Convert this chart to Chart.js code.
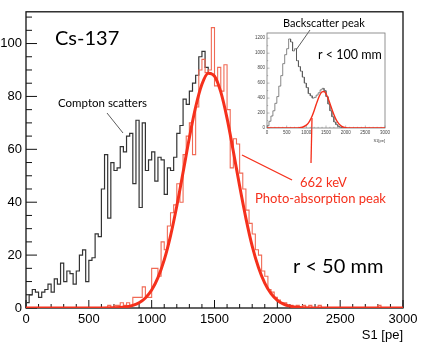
<!DOCTYPE html>
<html>
<head>
<meta charset="utf-8">
<script src="https://cdn.jsdelivr.net/npm/chart.js@4.4.1/dist/chart.umd.min.js"></script>
<style>
body { margin: 0; background: #fff; }
#wrap { position: relative; width: 425px; height: 347px; }
#main { position: absolute; left: 0; top: 0; }
#inset { position: absolute; left: 245px; top: 28px; }
</style>
</head>
<body>
<div id="wrap">
	<canvas id="main" width="425" height="347"></canvas>
	<canvas id="inset" width="150" height="115"></canvas>
</div>
<script>
// main histogram, 25 pe bins
const BIN_WIDTH = 25;
const BLACK_START = 0;
const blackCounts = [
	2, 5, 7, 6, 4, 6, 7, 9, 6, 11, 9, 17, 10, 14, 13, 9, 14, 20, 22, 10,
	18, 19, 28, 27, 45, 58, 34, 55, 52, 53, 61, 59, 65, 66, 47, 71, 38, 70, 52, 56,
	59, 48, 57, 56, 43, 53, 52, 57, 66, 69, 79, 77, 82, 85, 88, 95, 97, 91, 89,
];
const RED_START = 650;
const redCounts = [
	1, 0, 1, 1, 2, 1, 2, 1, 4, 4, 4, 8, 4, 4, 15, 15, 12, 25, 22, 31,
	36, 39, 47, 40, 58, 65, 70, 58, 76, 90, 94, 89, 90, 106, 84, 91, 82, 92, 75, 53,
	64, 62, 51, 45, 37, 32, 28, 22, 20, 14, 12, 7, 6, 4, 3, 2, 2, 1, 1, 0,
	1, 0, 1, 0, 1, 0, 0, 1, 0, 0, 0, 0, 0, 0, 0, 0, 0, 0, 0, 0,
	0, 0, 0, 0, 0, 0, 1, 0, 0, 0, 0, 0, 0, 0,
];
// gaussian fit
const fitX = [0, 500, 700, 800, 850, 900, 950, 1000, 1050, 1100, 1150, 1200, 1250, 1300, 1350, 1400, 1450, 1500,
	1550, 1600, 1650, 1700, 1750, 1800, 1850, 1900, 1950, 2000, 2050, 2100, 2150, 2200, 2400, 3000];
const fitY = [0, 0, 0.1, 0.5, 1, 2, 3.8, 6.8, 11.5, 18.2, 27.3, 38.6, 51.3, 64.4, 76, 84.6, 88.8, 87.7,
	81.7, 71.7, 59.2, 46.1, 33.9, 23.4, 15.3, 9.4, 5.4, 2.9, 1.5, 0.7, 0.3, 0.1, 0, 0];

// inset, r < 100 mm, 50 pe bins
const INSET_BIN = 50;
const insetCounts = [
	30, 90, 160, 230, 330, 420, 560, 700, 860, 980, 1060, 1190, 1150, 1030, 1060, 900, 820, 760, 680, 600,
	540, 460, 430, 400, 410, 440, 470, 510, 530, 500, 420, 320, 230, 150, 80, 45, 20, 10, 5, 0,
];
const insetFitX = [0, 700, 800, 900, 1000, 1050, 1100, 1150, 1200, 1250, 1300, 1350, 1400, 1450, 1500,
	1550, 1600, 1650, 1700, 1750, 1800, 1850, 1900, 1950, 2000, 2050, 2100, 2200, 3000];
const insetFitY = [0, 0, 2, 10, 38, 66, 108, 165, 235, 313, 388, 448, 484, 487, 458,
	401, 328, 251, 179, 119, 74, 43, 23, 12, 5, 2, 1, 0, 0];

const RED = '#f5301c';
const RED_HIST = '#f06a55';

Chart.defaults.font.family = '"Liberation Sans", Arial, sans-serif';
Chart.defaults.color = '#000';
Chart.defaults.animation = false;

function histPoints(start, width, counts, dropEnd) {
	const pts = [{ x: start, y: 0 }];
	counts.forEach((v, i) => {
		pts.push({ x: start + i * width, y: v });
		pts.push({ x: start + (i + 1) * width, y: v });
	});
	if (dropEnd) pts.push({ x: start + counts.length * width, y: 0 });
	return pts;
}

function linePoints(xs, ys) {
	return xs.map((x, i) => ({ x: x, y: ys[i] }));
}

function strokeLine(ctx, x1, y1, x2, y2) {
	ctx.beginPath();
	ctx.moveTo(x1, y1);
	ctx.lineTo(x2, y2);
	ctx.stroke();
}

// ROOT style frame with ticks pointing inwards
const framePlugin = {
	id: 'frame',
	beforeDatasetsDraw(chart, args, o) {
		const { ctx, chartArea: a, scales: { x, y } } = chart;
		ctx.save();
		ctx.strokeStyle = o.color;
		ctx.lineWidth = o.width;
		ctx.strokeRect(a.left, a.top, a.right - a.left, a.bottom - a.top);
		ctx.lineWidth = o.tickWidth;
		for (let v = x.min; v <= x.max; v += o.xMinor) {
			const px = x.getPixelForValue(v);
			const len = v % o.xMajor === 0 ? o.xMajorLen : o.xMinorLen;
			strokeLine(ctx, px, a.bottom, px, a.bottom - len);
		}
		for (let v = y.min; v <= y.max; v += o.yMinor) {
			const py = y.getPixelForValue(v);
			const len = v % o.yMajor === 0 ? o.yMajorLen : o.yMinorLen;
			strokeLine(ctx, a.left, py, a.left + len, py);
		}
		ctx.restore();
	},
};

const notesPlugin = {
	id: 'notes',
	afterDraw(chart) {
		const ctx = chart.ctx;
		ctx.save();
		ctx.textAlign = 'left';
		ctx.textBaseline = 'alphabetic';
		ctx.fillStyle = '#000';
		ctx.font = '20px Lato';
		ctx.fillText('Cs-137', 55, 45);
		ctx.font = '11.5px Lato';
		ctx.fillText('Compton scatters', 58, 107);
		ctx.font = '20px Lato';
		ctx.fillText('r < 50 mm', 293, 273);
		ctx.font = '11px Lato';
		ctx.fillText('Backscatter peak', 283, 27);
		ctx.font = '12.5px Lato';
		ctx.fillText('r < 100 mm', 318, 59);
		ctx.strokeStyle = '#333';
		ctx.lineWidth = 0.8;
		strokeLine(ctx, 107, 113, 123, 133);
		strokeLine(ctx, 310, 30, 296, 50);

		ctx.fillStyle = RED;
		ctx.font = '13px Lato';
		ctx.fillText('662 keV', 300, 187);
		ctx.fillText('Photo-absorption peak', 255, 203);
		ctx.strokeStyle = RED;
		ctx.lineWidth = 1.3;
		strokeLine(ctx, 242, 155, 292, 180);
		strokeLine(ctx, 312, 118, 311, 163);
		ctx.restore();
	},
};

new Chart(document.getElementById('main'), {
	type: 'line',
	data: {
		datasets: [
			{
				data: linePoints(fitX, fitY),
				borderColor: RED,
				borderWidth: 3,
				pointRadius: 0,
				cubicInterpolationMode: 'monotone',
				order: 0,
			},
			{
				data: histPoints(RED_START, BIN_WIDTH, redCounts, true),
				borderColor: RED_HIST,
				borderWidth: 1.1,
				pointRadius: 0,
				order: 1,
			},
			{
				data: histPoints(BLACK_START, BIN_WIDTH, blackCounts, false),
				borderColor: '#333',
				borderWidth: 1.2,
				pointRadius: 0,
				order: 2,
			},
		],
	},
	options: {
		responsive: false,
		layout: { padding: { left: 0, right: 22, top: 9, bottom: 0 } },
		scales: {
			x: {
				type: 'linear',
				min: 0,
				max: 3000,
				grid: { display: false, drawTicks: false },
				border: { display: false },
				ticks: {
					stepSize: 500, padding: 4, maxRotation: 0, autoSkip: false,
					format: { useGrouping: false }, font: { size: 13 },
				},
				title: {
					display: true,
					text: 'S1 [pe]',
					align: 'end',
					font: { size: 13 },
					padding: { top: 0, bottom: 4 },
				},
				afterFit: s => { s.height = 39; },
			},
			y: {
				min: 0,
				max: 112,
				grid: { display: false, drawTicks: false },
				border: { display: false },
				ticks: {
					stepSize: 20, includeBounds: false, padding: 4,
					format: { useGrouping: false }, font: { size: 13 },
				},
				afterFit: s => { s.width = 26; },
			},
		},
		plugins: {
			legend: { display: false },
			tooltip: { enabled: false },
			frame: {
				color: '#111', width: 1.3, tickWidth: 1,
				xMinor: 100, xMajor: 500, xMajorLen: 8, xMinorLen: 4,
				yMinor: 5, yMajor: 20, yMajorLen: 11, yMinorLen: 6,
			},
		},
	},
	plugins: [framePlugin, notesPlugin],
});

new Chart(document.getElementById('inset'), {
	type: 'line',
	data: {
		datasets: [
			{
				data: linePoints(insetFitX, insetFitY),
				borderColor: RED,
				borderWidth: 1.4,
				pointRadius: 0,
				cubicInterpolationMode: 'monotone',
				order: 0,
			},
			{
				data: histPoints(0, INSET_BIN, insetCounts, false),
				borderColor: '#555',
				borderWidth: 0.7,
				pointRadius: 0,
				order: 1,
			},
		],
	},
	options: {
		responsive: false,
		layout: { padding: { left: 0, right: 10, top: 5, bottom: 0 } },
		scales: {
			x: {
				type: 'linear',
				min: 0,
				max: 3000,
				grid: { display: false, drawTicks: false },
				border: { display: false },
				ticks: {
					stepSize: 500, padding: 2, maxRotation: 0, autoSkip: false,
					format: { useGrouping: false }, font: { size: 4.5 }, color: '#444',
				},
				title: { display: true, text: 'S1[pe]', align: 'end', font: { size: 4 }, color: '#444', padding: 0 },
				afterFit: s => { s.height = 15; },
			},
			y: {
				min: 0,
				max: 1270,
				grid: { display: false, drawTicks: false },
				border: { display: false },
				ticks: {
					stepSize: 200, includeBounds: false, padding: 2,
					format: { useGrouping: false }, font: { size: 4.5 }, color: '#444',
				},
				afterFit: s => { s.width = 22; },
			},
		},
		plugins: {
			legend: { display: false },
			tooltip: { enabled: false },
			frame: {
				color: '#777', width: 0.8, tickWidth: 0.5,
				xMinor: 100, xMajor: 500, xMajorLen: 2.5, xMinorLen: 1.2,
				yMinor: 100, yMajor: 200, yMajorLen: 2.5, yMinorLen: 1.2,
			},
		},
	},
	plugins: [framePlugin],
});
</script>
</body>
</html>
